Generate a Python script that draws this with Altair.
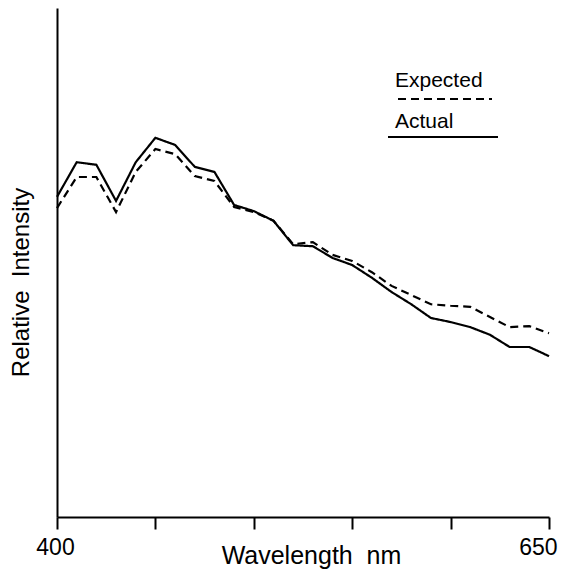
import altair as alt
import pandas as pd

wavelength = [400, 410, 420, 430, 440, 450, 460, 470, 480, 490, 500, 510, 520,
              530, 540, 550, 560, 570, 580, 590, 600, 610, 620, 630, 640, 650]
actual = [62.9, 69.7, 69.2, 62.1, 69.7, 74.5, 73.1, 68.8, 67.8, 61.3, 60.1, 58.2, 53.4,
          53.2, 50.9, 49.5, 47.0, 44.2, 41.8, 39.1, 38.3, 37.3, 35.8, 33.4, 33.4, 31.6]
expected = [60.7, 66.8, 66.8, 59.9, 67.8, 72.3, 71.3, 67.0, 66.0, 60.9, 59.9, 58.2, 53.6,
            54.0, 51.5, 50.3, 48.1, 45.4, 43.6, 41.8, 41.5, 41.3, 39.3, 37.3, 37.5, 36.1]
series_names = ["Expected", "Actual"]
x_ticks = [400, 450, 500, 550, 600, 650]
x_labels = [400, 650]

FONT = "Liberation Sans"

df = pd.DataFrame({
    "wl": wavelength * 2,
    "v": expected + actual,
    "series": ["Expected"] * len(wavelength) + ["Actual"] * len(wavelength),
})

lines = alt.Chart(df).mark_line(color="black", strokeWidth=2.2).encode(
    x=alt.X("wl:Q",
            scale=alt.Scale(domain=[400, 650], nice=False, zero=False),
            axis=alt.Axis(
                values=x_ticks,
                labelExpr="(datum.value == %d || datum.value == %d) ? datum.label : ''" % tuple(x_labels),
                labelFlush=False,
                labelAlign={"expr": "datum.value == 650 ? 'right' : 'center'"},
                labelOffset={"expr": "datum.value == 650 ? 8 : -2"},
                title="Wavelength\u00a0\u00a0nm",
                grid=False,
                domainColor="black", domainWidth=2,
                tickColor="black", tickWidth=2, tickSize=12,
                labelFont=FONT, labelFontSize=23, labelColor="black", labelPadding=7,
                titleFont=FONT, titleFontSize=25, titleFontWeight="normal", titleColor="black",
                titleAnchor="start", titleAlign="center", titleBaseline="alphabetic",
                titleX=254, titleY=46,
            )),
    y=alt.Y("v:Q",
            scale=alt.Scale(domain=[0, 100], nice=False, zero=False),
            axis=alt.Axis(
                ticks=False, labels=False, grid=False,
                domainColor="black", domainWidth=2,
                title="Relative\u00a0\u00a0Intensity",
                titleFont=FONT, titleFontSize=24, titleFontWeight="normal", titleColor="black",
                titleAngle=-90, titleAlign="center", titleBaseline="alphabetic",
                titleAnchor="start", titleX=-29, titleY=274,
            )),
    strokeDash=alt.StrokeDash("series:N",
                              scale=alt.Scale(domain=series_names, range=[[8, 5], [1, 0]]),
                              legend=None),
    detail="series:N",
)

leg_text_exp = alt.Chart().mark_text(
    text=series_names[0], font=FONT, fontSize=21, align="left", baseline="alphabetic", color="black"
).encode(x=alt.value(338), y=alt.value(79))
leg_text_act = alt.Chart().mark_text(
    text=series_names[1], font=FONT, fontSize=21, align="left", baseline="alphabetic", color="black"
).encode(x=alt.value(338), y=alt.value(120))
leg_rule_exp = alt.Chart().mark_rule(color="black", strokeWidth=2, strokeDash=[8, 5]).encode(
    x=alt.value(341), x2=alt.value(435), y=alt.value(91))
leg_rule_act = alt.Chart().mark_rule(color="black", strokeWidth=2).encode(
    x=alt.value(331), x2=alt.value(441), y=alt.value(129))

chart = alt.layer(lines, leg_text_exp, leg_text_act, leg_rule_exp, leg_rule_act).properties(
    width=492, height=509,
    autosize=alt.AutoSizeParams(type="none"),
    padding={"left": 49, "top": 0, "right": 9, "bottom": 53},
    background="white",
).configure_view(stroke=None)

chart.save("out.html", embed_options={"renderer": "svg", "actions": False})
